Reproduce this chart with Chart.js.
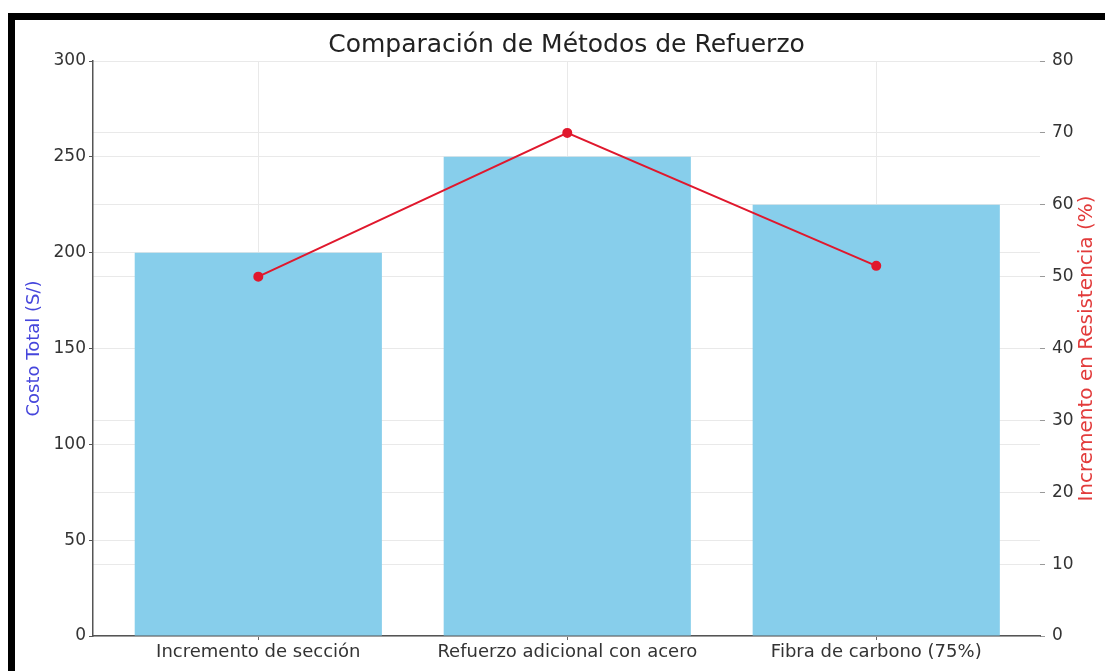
<!doctype html>
<html>

<head>
<title>Comparación de Métodos de Refuerzo</title>
<script src="https://cdn.jsdelivr.net/npm/chart.js@4.4.9/dist/chart.umd.min.js"></script>
<script>

// values
const methods = ['Incremento de sección', 'Refuerzo adicional con acero', 'Fibra de carbono (75%)'];
const cost = [200, 250, 225];
const strengthGain = [50, 70, 51.5];
const costTicks = [0, 50, 100, 150, 200, 250, 300];
const gainTicks = [0, 10, 20, 30, 40, 50, 60, 70, 80];

const costLabel = 'Costo Total (S/)';
const gainLabel = 'Incremento en Resistencia (%)';

const FONT = '"DejaVu Sans", sans-serif';

// matplotlib twinx label reads bottom to top, chart.js draws it the other way
const rightTitle = {
  id: 'rightTitle',
  afterDraw(chart) {
    let ctx = chart.ctx;
    let a = chart.chartArea;
    ctx.save();
    ctx.translate(chart.width - 18, (a.top + a.bottom) / 2);
    ctx.rotate(-Math.PI / 2);
    ctx.font = '20px ' + FONT;
    ctx.fillStyle = '#e23b3b';
    ctx.textAlign = 'center';
    ctx.textBaseline = 'middle';
    ctx.fillText(gainLabel, 0, 0);
    ctx.restore();
  }
};

function go() {
  Chart.defaults.font.family = FONT;
  Chart.defaults.color = '#333';

  let canvas = document.getElementById('chart');
  let grid = '#e9e9e9';

  new Chart(canvas, {
    type: 'bar',
    data: {
      datasets: [
        {
          type: 'line',
          data: strengthGain.map((v, i) => ({ x: i, y: v })),
          yAxisID: 'y1',
          borderColor: '#e0182d',
          backgroundColor: '#e0182d',
          borderWidth: 2,
          pointRadius: 4,
          order: 0,
        },
        {
          data: cost.map((v, i) => ({ x: i, y: v })),
          yAxisID: 'y',
          backgroundColor: '#87ceeb',
          barPercentage: 0.8,
          categoryPercentage: 1,
          order: 1,
        },
      ],
    },
    options: {
      responsive: true,
      maintainAspectRatio: false,
      animation: false,
      layout: { padding: 0 },
      plugins: {
        legend: { display: false },
        tooltip: { enabled: false },
        title: {
          display: true,
          text: 'Comparación de Métodos de Refuerzo',
          fullSize: false,
          color: '#222',
          font: { size: 25, weight: 'normal' },
          padding: { top: 10, bottom: 1 },
        },
      },
      scales: {
        x: {
          type: 'linear',
          offset: false,
          min: -0.535,
          max: 2.53,
          afterBuildTicks: s => { s.ticks = methods.map((m, i) => ({ value: i })); },
          afterFit: s => { s.height = 35; },
          ticks: {
            callback: (v) => methods[v],
            font: { size: 18 },
            padding: 2,
            maxRotation: 0,
            autoSkip: false,
          },
          grid: { offset: false, color: grid, tickColor: '#666', tickLength: 4 },
          border: { color: '#555', width: 1.5 },
        },
        y: {
          position: 'left',
          min: 0,
          max: 300,
          afterBuildTicks: s => { s.ticks = costTicks.map(v => ({ value: v })); },
          afterFit: s => { s.width = 78; },
          ticks: { font: { size: 17 }, padding: 3 },
          grid: { color: grid, tickColor: '#555', tickLength: 4 },
          border: { color: '#555', width: 1.5 },
          title: {
            display: true,
            text: costLabel,
            color: '#4646dc',
            font: { size: 18 },
            padding: { top: 9, bottom: 0 },
          },
        },
        y1: {
          position: 'right',
          min: 0,
          max: 80,
          afterBuildTicks: s => { s.ticks = gainTicks.map(v => ({ value: v })); },
          afterFit: s => { s.width = 65; },
          ticks: { font: { size: 17 }, padding: 7 },
          grid: { color: grid, tickColor: '#999', tickLength: 5 },
          border: { display: false },
        },
      },
    },
    plugins: [rightTitle],
  });
}

window.onload = go;

</script>
</head>

<body style="margin: 0; background: #fff">
<div style="position: absolute; left: 8px; top: 13px; border-top: 7px solid #000; border-left: 7px solid #000">
  <div style="width: 1090px; height: 651px"><canvas id="chart"></canvas></div>
</div>
</body>

</html>
